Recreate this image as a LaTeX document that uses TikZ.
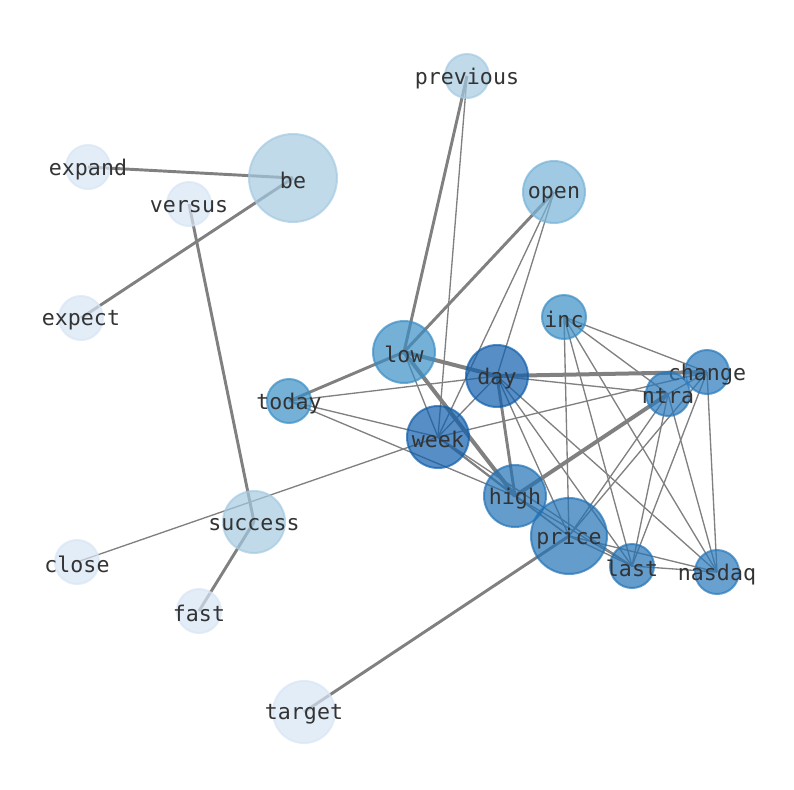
\documentclass[tikz,border=0pt]{standalone}
\usepackage{fontspec}
\newfontfamily\monofont{DejaVu Sans Mono}
\usetikzlibrary{backgrounds}
\definecolor{cA}{RGB}{215,229,244}
\definecolor{cB}{RGB}{165,202,225}
\definecolor{cC}{RGB}{119,179,216}
\definecolor{cD}{RGB}{59,142,197}
\definecolor{cE}{RGB}{34,114,182}
\definecolor{cG}{RGB}{40,121,188}
\definecolor{cF}{RGB}{16,94,172}
\definecolor{edgegray}{RGB}{128,128,128}
\definecolor{txt}{RGB}{51,51,51}
\tikzset{
  vn/.style 2 args={circle, inner sep=0pt, outer sep=0pt, minimum size=#1,
    fill=#2, draw=#2, fill opacity=0.7, draw opacity=0.7, line width=1.5pt,
    label={[lbl]center:\csname lbltext\endcsname}},
  lbl/.style={font=\monofont\fontsize{16.2pt}{18pt}\selectfont, text=txt, inner sep=0pt, text opacity=1, fill opacity=1, yshift=-1.8pt},
  sm/.style={vn={33pt}{#1}},
  md/.style={vn={46.5pt}{#1}},
  lg/.style={vn={57pt}{#1}},
  xl/.style={vn={66pt}{#1}},
  thin/.style={draw=edgegray, line width=1pt},
  mid/.style={draw=edgegray, line width=1.6pt},
  thk/.style={draw=edgegray, line width=2.2pt},
  vthk/.style={draw=edgegray, line width=3pt},
}
\newcommand\nd[5]{\def\lbltext{#5}\node[#1={#2}] (#3) at #4 {};}
\begin{document}
\begin{tikzpicture}[x=0.75pt,y=-0.75pt]
\useasboundingbox (0,0) rectangle (794,790);
\nd{sm}{cB}{previous}{(467,76)}{previous}
\nd{xl}{cB}{be}{(293,178)}{be}
\nd{sm}{cA}{expand}{(88,167)}{expand}
\nd{sm}{cA}{versus}{(189,204)}{versus}
\nd{md}{cC}{open}{(554,192)}{open}
\nd{sm}{cA}{expect}{(81,318)}{expect}
\nd{sm}{cD}{inc}{(564,317)}{inc}
\nd{md}{cD}{low}{(404,352)}{low}
\nd{md}{cF}{day}{(497,376)}{day}
\nd{sm}{cG}{change}{(707,372)}{change}
\nd{sm}{cG}{ntra}{(668,394)}{ntra}
\nd{sm}{cD}{today}{(289,401)}{today}
\nd{md}{cF}{week}{(438,437)}{week}
\nd{md}{cE}{high}{(515,496)}{high}
\nd{md}{cB}{success}{(254,522)}{success}
\nd{lg}{cE}{price}{(569,536)}{price}
\nd{sm}{cA}{close}{(77,562)}{close}
\nd{sm}{cE}{last}{(632,566)}{last}
\nd{sm}{cG}{nasdaq}{(717,572)}{nasdaq}
\nd{sm}{cA}{fast}{(199,611)}{fast}
\nd{md}{cA}{target}{(304,712)}{target}
\begin{scope}[on background layer]
\draw[thk] (be.center) -- (expand.center);
\draw[thk] (be.center) -- (expect.center);
\draw[thk] (versus.center) -- (success.center);
\draw[thk] (success.center) -- (fast.center);
\draw[thk] (previous.center) -- (low.center);
\draw[thk] (open.center) -- (low.center);
\draw[thk] (low.center) -- (today.center);
\draw[thk] (day.center) -- (high.center);
\draw[thk] (price.center) -- (target.center);
\draw[vthk] (low.center) -- (day.center);
\draw[vthk] (low.center) -- (high.center);
\draw[vthk] (day.center) -- (change.center);
\draw[vthk] (high.center) -- (ntra.center);
\draw[thin] (close.center) -- (week.center);
\draw[thin] (previous.center) -- (week.center);
\draw[thin] (open.center) -- (week.center);
\draw[thin] (open.center) -- (day.center);
\draw[thin] (low.center) -- (week.center);
\draw[thin] (day.center) -- (week.center);
\draw[thin] (day.center) -- (today.center);
\draw[thin] (day.center) -- (ntra.center);
\draw[thin] (day.center) -- (price.center);
\draw[thin] (day.center) -- (last.center);
\draw[thin] (day.center) -- (nasdaq.center);
\draw[thin] (today.center) -- (week.center);
\draw[thin] (today.center) -- (high.center);
\draw[mid] (week.center) -- (high.center);
\draw[thin] (week.center) -- (price.center);
\draw[thin] (week.center) -- (last.center);
\draw[thin] (week.center) -- (change.center);
\draw[thin] (high.center) -- (price.center);
\draw[thin] (high.center) -- (last.center);
\draw[thin] (price.center) -- (last.center);
\draw[thin] (price.center) -- (nasdaq.center);
\draw[thin] (last.center) -- (nasdaq.center);
\draw[thin] (inc.center) -- (change.center);
\draw[thin] (inc.center) -- (ntra.center);
\draw[thin] (inc.center) -- (price.center);
\draw[thin] (inc.center) -- (last.center);
\draw[thin] (inc.center) -- (nasdaq.center);
\draw[thin] (ntra.center) -- (change.center);
\draw[thin] (ntra.center) -- (price.center);
\draw[thin] (ntra.center) -- (last.center);
\draw[thin] (ntra.center) -- (nasdaq.center);
\draw[thin] (change.center) -- (price.center);
\draw[thin] (change.center) -- (last.center);
\draw[thin] (change.center) -- (nasdaq.center);
\end{scope}
\end{tikzpicture}
\end{document}
